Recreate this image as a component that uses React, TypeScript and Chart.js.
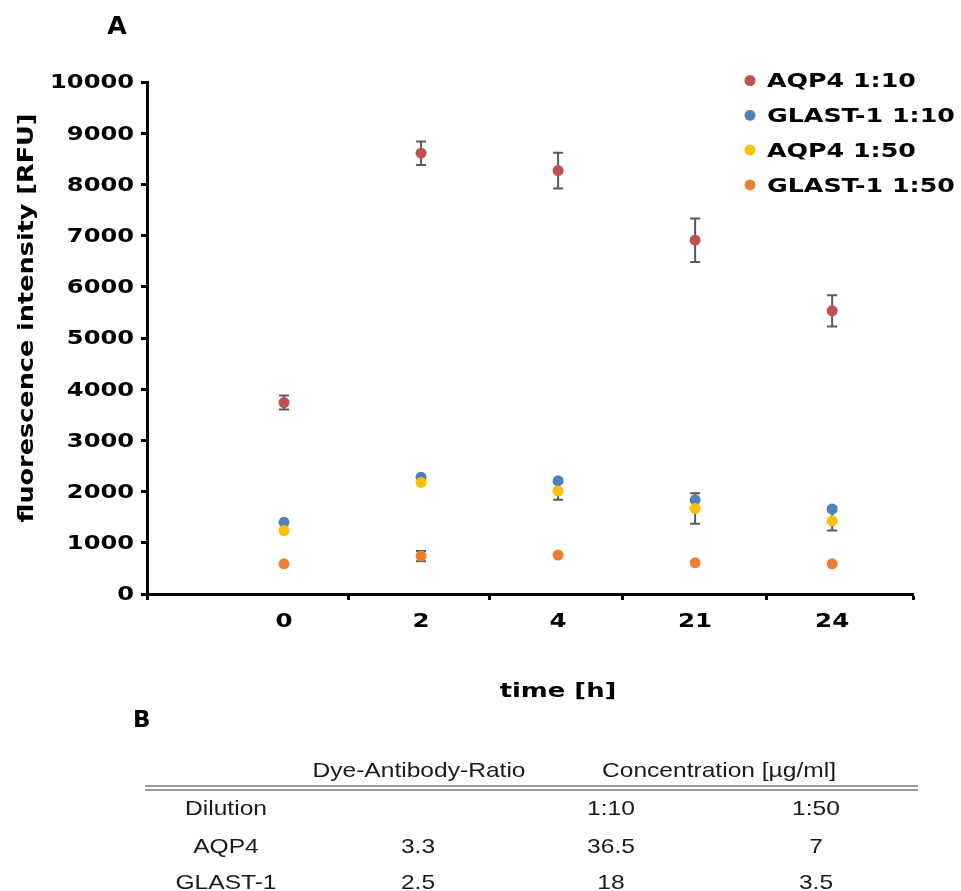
import React, { useEffect, useRef } from 'react';
import { Chart, registerables } from 'chart.js';

Chart.register(...registerables);

// Sampling times (h) shown under the x axis, one category per point column
const timeLabels = ['0', '2', '4', '21', '24'];

// Series names and colours
const seriesNames = ['AQP4 1:10', 'GLAST-1 1:10', 'AQP4 1:50', 'GLAST-1 1:50'];
const seriesColors = ['#C0504D', '#4F81BD', '#FFC000', '#ED7D31'];

// Mean fluorescence intensity [RFU] and standard deviation per time point
const aqp4Dil10 = [3740, 8610, 8270, 6910, 5530];
const aqp4Dil10Sd = [135, 230, 350, 425, 305];
const glastDil10 = [1400, 2280, 2210, 1840, 1660];
const glastDil10Sd = [0, 0, 0, 0, 0];
const aqp4Dil50 = [1240, 2180, 2010, 1670, 1430];
const aqp4Dil50Sd = [0, 0, 170, 300, 188];
const glastDil50 = [590, 740, 760, 610, 590];
const glastDil50Sd = [0, 100, 0, 0, 0];

// Axis ranges and the x positions of the axis tick marks (in category units)
const yMin = 0;
const yMax = 10000;
const yStep = 1000;
const xMax = 5.59;
const xTickMarks = [0, 1.47, 2.5, 3.47, 4.52, 5.59];

// Table B
const tableHeader = ['', 'Dye-Antibody-Ratio', 'Concentration [µg/ml]'];
const dilutionRow = ['Dilution', '', '1:10', '1:50'];
const aqp4Row = ['AQP4', '3.3', '36.5', '7'];
const glastRow = ['GLAST-1', '2.5', '18', '3.5'];

const seriesValues = [aqp4Dil10, glastDil10, aqp4Dil50, glastDil50];
const seriesSd = [aqp4Dil10Sd, glastDil10Sd, aqp4Dil50Sd, glastDil50Sd];

const FONT = '"DejaVu Sans", Verdana, sans-serif';

function wideText(
  ctx: CanvasRenderingContext2D,
  text: string,
  x: number,
  y: number,
  size: number,
  align: CanvasTextAlign,
  sx: number,
) {
  ctx.save();
  ctx.font = `bold ${size}px ${FONT}`;
  ctx.fillStyle = '#000';
  ctx.textAlign = align;
  ctx.textBaseline = 'middle';
  ctx.translate(x, y);
  ctx.scale(sx, 1);
  ctx.fillText(text, 0, 0);
  ctx.restore();
}

// Vertical SD whiskers with caps, drawn underneath the markers
const errorBars = {
  id: 'errorBars',
  beforeDatasetsDraw(chart: any) {
    const { ctx } = chart;
    const xs = chart.scales.x;
    const ys = chart.scales.y;
    chart.data.datasets.forEach((ds: any) => {
      (ds.errors || []).forEach((e: number, i: number) => {
        if (!e) return;
        const pt = ds.data[i];
        const px = xs.getPixelForValue(pt.x);
        const top = ys.getPixelForValue(pt.y + e);
        const bot = ys.getPixelForValue(pt.y - e);
        ctx.save();
        ctx.strokeStyle = '#595959';
        ctx.lineWidth = 2;
        ctx.beginPath();
        ctx.moveTo(px, top);
        ctx.lineTo(px, bot);
        ctx.moveTo(px - 5, top);
        ctx.lineTo(px + 5, top);
        ctx.moveTo(px - 5, bot);
        ctx.lineTo(px + 5, bot);
        ctx.stroke();
        ctx.restore();
      });
    });
  },
};

// Tick labels, axis titles, panel letter and legend in a wide bold face
const textLayer = {
  id: 'textLayer',
  afterDraw(chart: any) {
    const { ctx } = chart;
    const xs = chart.scales.x;
    const ys = chart.scales.y;

    ys.ticks.forEach((t: any) => {
      wideText(ctx, String(t.value), 134, ys.getPixelForValue(t.value) + 1.5, 19, 'right', 1.27);
    });
    timeLabels.forEach((label, i) => {
      wideText(ctx, label, xs.getPixelForValue(i + 1), 622, 19, 'center', 1.29);
    });

    wideText(ctx, 'time [h]', 558, 692, 19, 'center', 1.36);
    wideText(ctx, 'A', 117, 28, 24, 'center', 1.05);

    // rotated y-axis title
    ctx.save();
    ctx.font = `bold 22px ${FONT}`;
    ctx.fillStyle = '#000';
    ctx.textAlign = 'center';
    ctx.textBaseline = 'alphabetic';
    ctx.translate(33, 318);
    ctx.rotate(-Math.PI / 2);
    ctx.scale(1.16, 1);
    ctx.fillText('fluorescence intensity [RFU]', 0, 0);
    ctx.restore();

    // legend
    chart.data.datasets.forEach((ds: any, i: number) => {
      const cy = 80.5 + i * 34.8;
      ctx.save();
      ctx.fillStyle = ds.backgroundColor;
      ctx.beginPath();
      ctx.arc(750, cy, 5.5, 0, Math.PI * 2);
      ctx.fill();
      ctx.restore();
      wideText(ctx, ds.label, 767, cy + 2, 19, 'left', 1.33);
    });
  },
};

const cellStyle = (x: number, y: number): React.CSSProperties => ({
  position: 'absolute',
  left: x,
  top: y,
  transform: 'translate(-50%, -50%) scaleX(1.17)',
  whiteSpace: 'nowrap',
  font: '21px "Liberation Sans", Arial, sans-serif',
  color: '#1a1a1a',
  lineHeight: '24px',
});

const colX = [226, 418, 611, 816];
const rowY = [808, 846, 882];

export default function App() {
  const canvasRef = useRef<HTMLCanvasElement>(null);

  useEffect(() => {
    const canvas = canvasRef.current;
    if (!canvas) return;
    const tickGrid = {
      drawOnChartArea: false,
      drawTicks: true,
      tickLength: 6,
      tickWidth: 3,
      tickColor: '#000',
    };
    const chart = new Chart(canvas, {
      type: 'scatter',
      data: {
        datasets: seriesNames.map((name, i) => ({
          label: name,
          data: seriesValues[i].map((v, j) => ({ x: j + 1, y: v })),
          errors: seriesSd[i],
          backgroundColor: seriesColors[i],
          borderColor: seriesColors[i],
          pointRadius: 5.5,
          pointHoverRadius: 5.5,
          pointBorderWidth: 0,
          order: -i,
        })) as any,
      },
      options: {
        responsive: false,
        animation: false,
        devicePixelRatio: 1,
        layout: { padding: { left: 141, right: 48, top: 82, bottom: 291 } },
        plugins: {
          legend: { display: false },
          tooltip: { enabled: false },
        },
        scales: {
          x: {
            type: 'linear',
            min: 0,
            max: xMax,
            afterBuildTicks: (scale: any) => {
              scale.ticks = xTickMarks.map((v) => ({ value: v }));
            },
            ticks: { display: false },
            grid: tickGrid,
            border: { display: true, color: '#000', width: 3 },
          },
          y: {
            min: yMin,
            max: yMax,
            ticks: { display: false, stepSize: yStep },
            grid: tickGrid,
            border: { display: true, color: '#000', width: 3 },
          },
        },
      },
      plugins: [errorBars, textLayer],
    });
    return () => chart.destroy();
  }, []);

  const rows = [dilutionRow, aqp4Row, glastRow];

  return (
    <div
      style={{
        position: 'absolute',
        left: 0,
        top: 0,
        width: 961,
        height: 891,
        background: '#fff',
        overflow: 'hidden',
      }}
    >
      <canvas
        ref={canvasRef}
        width={961}
        height={891}
        style={{ position: 'absolute', left: 0, top: 0, width: 961, height: 891 }}
      />
      <div
        style={{
          position: 'absolute',
          left: 133,
          top: 706,
          font: `bold 23px ${FONT}`,
          color: '#000',
        }}
      >
        B
      </div>
      <div style={cellStyle(419, 770)}>{tableHeader[1]}</div>
      <div style={cellStyle(719, 770)}>{tableHeader[2]}</div>
      <div style={{ position: 'absolute', left: 145, top: 785, width: 773, height: 2, background: '#9a9a9a' }} />
      <div style={{ position: 'absolute', left: 145, top: 789, width: 773, height: 2, background: '#9a9a9a' }} />
      {rows.map((row, r) =>
        row.map((cell, c) =>
          cell ? (
            <div key={`${r}-${c}`} style={cellStyle(colX[c], rowY[r])}>
              {cell}
            </div>
          ) : null,
        ),
      )}
    </div>
  );
}
